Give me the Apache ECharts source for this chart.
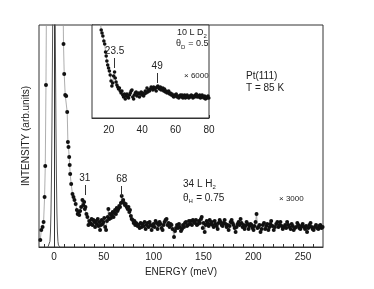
<!DOCTYPE html>
<html>
<head>
<meta charset="utf-8">
<script src="https://cdn.jsdelivr.net/npm/echarts@6/dist/echarts.min.js"></script>
<style>html,body{margin:0;padding:0;background:#fff}#c{width:374px;height:289px}</style>
</head>
<body>
<div id="c"></div>
<script>
// Elastic peak (unscaled), thin line
var energyElastic = [-6,-5,-4.5,-4,-3.5,-3,-2.5,-2,-1.5,-1,-0.5,0,0.5,1,1.5,2,2.5,3,3.5,4,4.5,5,6];
var intensityElastic = [0,0.6,1.9,5.7,15,34,69,122,191,263,319,340,319,263,191,122,69,34,15,5.7,1.9,0.6,0];

// Loss spectrum x3000 (main panel)
var energyMain = [-13.7,-12.7,-11.4,-10.4,-9.4,-8.7,-8.0,-7.2,-6,7,8.2,9.6,10.3,11.3,12.3,13.3,14.0,14.6,15.3,15.8,16.3,17.3,18.6,19.6,20.6,21.8,23.0,23.8,24.6,25.4,26.3,27.3,28.6,29.5,30.3,31.0,31.6,32.6,33.6,34.6,35.5,36.3,37.0,37.8,38.7,39.6,40.5,41.3,42.2,43.0,44.0,44.8,45.6,46.3,47.2,48.0,48.8,49.6,50.5,51.4,52.3,53.2,54.0,54.6,55.5,56.3,57.2,58.0,59.0,59.8,60.5,61.3,62.2,63.0,63.8,64.6,65.5,66.3,67.2,68.0,68.8,69.5,70.3,71.2,72.0,73.0,74.0,74.8,75.6,76.3,77.2,78.0,79.0,80.0,80.8,81.6,82.4,83.2,84.0,85.0,86.0,87.0,88.0,89.0,90.0,91.0,92.0,93.0,94.0,95.0,96.0,97.0,98.0,99.0,100.0,101.0,102.0,103.0,104.0,105.0,106.0,107.0,108.0,109.0,110.0,111.0,112.0,113.0,114.0,115.0,116.0,117.0,118.0,119.0,120.5,121.5,122.5,123.5,124.5,125.5,126.5,127.5,128.5,129.5,130.5,131.5,132.5,133.5,134.5,135.5,136.5,137.5,138.5,139.5,140.5,141.5,142.5,143.5,144.5,145.5,146.5,147.5,148.3,149.3,150.3,151.3,152.3,153.3,154.3,155.3,156.3,157.3,158.3,159.3,160.3,161.3,162.3,163.3,164.3,165.3,166.3,167.3,168.3,169.3,170.3,171.3,172.3,173.3,174.3,175.3,176.3,177.3,178.3,179.3,180.3,181.3,182.3,183.3,184.3,185.3,186.3,187.3,188.3,189.3,190.3,191.3,192.3,193.3,194.3,195.3,196.3,197.3,198.3,199.3,200.3,201.3,202.3,203.3,204.3,205.3,206.3,207.3,208.5,209.6,210.8,212,213,214,215.2,216.3,217.2,218,219.3,220.6,221.8,223,224.2,225.3,226.3,227.3,228.5,229.6,230.8,232,233,234,235.2,236.3,237.5,238.6,239.6,240.6,241.8,243,244.2,245.3,246.3,247.3,248.5,249.6,250.8,252,253,254,255.2,256.3,257.5,258.6,259.6,260.6,261.8,263,264.2,265.3,266.3,267.3,268.5,269.6];
var intensityMain = [7,17,20,25,50,81,162,300,600,600,330,203,173,152,151,135,105,100,90,82,73,63,53,50,47,43,37,33,35,32,36,40,47,42,45,38,40,33,30,22,26,24,23,28,22,27,25,20,26,23,28,21,25,17,22,27,23,25,29,20,17,26,30,38,28,33,29,32,35,30,34,37,33,39,36,38,41,40,44,51,45,47,44,42,43,40,38,40,35,37,31,28,27,24,26,22,24,23,21,22,19,24,20,23,21,25,18,22,24,20,25,22,17,21,23,20,26,24,18,22,25,23,19,17,22,25,27,28,22,24,20,23,22,18,10,16,19,22,19,23,20,16,18,22,20,24,25,21,22,26,23,26,22,27,25,24,27,22,23,26,24,28,30,19,24,15,22,26,24,21,27,23,25,22,20,26,23,21,18,24,27,25,22,21,24,27,23,20,22,17,21,25,27,24,22,19,15,20,23,25,22,28,24,20,22,18,21,25,23,18,21,23,22,19,17,21,25,33,19,20,22,15,18,22,24,18,21,23,17,20,23,26,21,17,20,23,25,20,22,25,21,18,20,22,19,25,22,20,18,23,21,17,19,20,24,22,19,18,21,23,20,18,21,15,19,22,24,20,18,17,20,22,19,18,21,22,19,20];

// Inset spectrum (10 L D2, x6000)
var energyInset = [14.8,15.5,16.0,16.5,17.1,17.6,18.1,18.5,18.9,19.4,19.9,20.4,20.9,21.4,21.9,22.4,22.9,23.5,23.9,24.4,24.9,25.4,25.9,26.4,26.9,27.4,27.9,28.4,28.9,29.4,29.9,30.4,30.9,31.4,31.9,32.4,32.9,33.4,33.9,34.4,34.9,35.4,35.9,36.4,36.9,37.4,37.9,38.4,38.9,39.4,39.9,40.4,40.9,41.4,41.9,42.4,42.9,43.4,43.9,44.4,44.9,45.4,45.9,46.4,46.9,47.4,47.9,48.4,48.9,49.4,49.9,50.4,50.9,51.4,51.9,52.4,52.9,53.4,53.9,54.4,54.9,55.4,55.9,56.4,56.9,57.4,57.9,58.4,58.9,59.4,59.9,60.4,60.9,61.4,61.9,62.4,62.9,63.4,63.9,64.4,64.9,65.4,65.9,66.4,66.9,67.4,67.9,68.4,68.9,69.4,69.9,70.4,70.9,71.4,71.9,72.4,72.9,73.4,73.9,74.4,74.9,75.4,75.9,76.4,76.9,77.4,77.9,78.4,78.9,79.4,79.9];
var intensityInset = [100,88,85,82,77,74,66,62,57,53,50,47,43,37,32,35,42,46,40,36,33,31,29,30,27,25,27,23,21,24,19,22,24,21,20,23,25,27,28,21,19,23,25,26,22,24,25,21,24,26,23,25,22,24,27,25,30,26,28,27,29,31,30,28,31,29,30,27,31,32,30,29,31,28,29,30,27,29,26,27,25,26,27,24,25,23,24,22,21,23,22,24,21,22,20,22,23,21,23,20,21,23,20,22,23,21,20,22,21,23,22,20,22,21,23,24,21,22,21,23,20,22,23,21,20,22,19,21,20,22,20];

// Axis tick values
var mainTickLabels = [0,50,100,150,200,250];
var mainMinorTicks = [-10,0,10,20,30,40,50,60,70,80,90,100,110,120,130,140,150,160,170,180,190,200,210,220,230,240,250,260];
var insetTickLabels = [20,40,60,80];

function zip(a,b){var r=[];for(var i=0;i<a.length;i++)r.push([a[i],b[i]]);return r;}

var FONT = 'Liberation Sans, Arial, sans-serif';
var ctx = document.createElement('canvas').getContext('2d');
function tw(text, size){ctx.font = size+'px '+FONT; return ctx.measureText(text).width;}
function txt(x, y, text, size){
  return {type:'text', x:x, y:y, z:10, style:{text:text, font:size+'px '+FONT, fill:'#222', verticalAlign:'middle', textVerticalAlign:'middle'}};
}
// Text with subscript pieces: parts = [[text, isSub], ...]
function subText(x, y, parts, size){
  var out = [], cx = x;
  parts.forEach(function(p){
    var s = p[1] ? Math.round(size*0.62) : size;
    out.push(txt(cx, p[1] ? y + size*0.38 : y, p[0], s));
    cx += tw(p[0], s) + (p[1] ? 0.5 : 0);
  });
  return out;
}

var graphics = [].concat(
  [txt(246, 76, 'Pt(111)', 10), txt(246, 88, 'T = 85 K', 10)],
  subText(177, 33, [['10 L D',0],['2',1]], 9),
  subText(176, 44, [['\u03b8',0],['D',1],[' = 0.5',0]], 9),
  [txt(184, 76, '\u00d7 6000', 8)],
  subText(183, 184, [['34 L H',0],['2',1]], 10),
  subText(183, 198, [['\u03b8',0],['H',1],[' = 0.75',0]], 10),
  [txt(279, 199, '\u00d7 3000', 8)]
);

var chart = echarts.init(document.getElementById('c'));
var markLbl = {show:true, position:'end', formatter:'{b}', color:'#222', fontSize:10, fontFamily:FONT, distance:2};
chart.setOption({
  animation:false,
  backgroundColor:'#fff',
  grid:[
    {left:39, top:25, right:51, bottom:42, show:true, borderColor:'#333', borderWidth:1, backgroundColor:'transparent'},
    {left:92, top:25, width:117, height:93, show:true, borderColor:'#333', borderWidth:1, backgroundColor:'#fff', z:5}
  ],
  xAxis:[
    {gridIndex:0, type:'value', min:-15, max:270, name:'ENERGY (meV)', nameLocation:'middle', nameGap:18,
     nameTextStyle:{color:'#222', fontSize:10, fontFamily:FONT},
     axisLine:{show:true, lineStyle:{color:'#333'}},
     axisTick:{show:true, inside:true, length:3, customValues:mainMinorTicks, lineStyle:{color:'#333'}},
     axisLabel:{show:true, customValues:mainTickLabels, color:'#222', fontSize:10, fontFamily:FONT, margin:5},
     splitLine:{show:false}},
    {gridIndex:1, type:'value', min:10, max:80, interval:10,
     axisLine:{show:true, lineStyle:{color:'#333'}},
     axisTick:{show:true, inside:true, length:3, lineStyle:{color:'#333'}},
     axisLabel:{show:true, color:'#222', fontSize:10, fontFamily:FONT, margin:7,
       formatter:function(v){return insetTickLabels.indexOf(v)>=0 ? String(v) : '';}},
     splitLine:{show:false}}
  ],
  yAxis:[
    {gridIndex:0, type:'value', min:0, max:222, name:'INTENSITY (arb.units)', nameLocation:'middle', nameGap:8,
     nameTextStyle:{color:'#222', fontSize:10, fontFamily:FONT},
     axisLine:{show:true, lineStyle:{color:'#333'}}, axisTick:{show:false}, axisLabel:{show:false}, splitLine:{show:false}},
    {gridIndex:1, type:'value', min:0, max:93,
     axisLine:{show:true, lineStyle:{color:'#333'}}, axisTick:{show:false}, axisLabel:{show:false}, splitLine:{show:false}}
  ],
  series:[
    {type:'line', xAxisIndex:0, yAxisIndex:0, data:zip(energyElastic,intensityElastic), showSymbol:false, symbol:'none',
     lineStyle:{color:'#555', width:1}, clip:true, z:2},
    {type:'line', xAxisIndex:0, yAxisIndex:0, data:zip(energyMain,intensityMain), symbol:'circle', symbolSize:4,
     itemStyle:{color:'#111'}, lineStyle:{color:'#999', width:0.8}, clip:true, z:3,
     markLine:{symbol:'none', silent:true, animation:false, lineStyle:{color:'#333', width:1, type:'solid'}, label:markLbl,
       data:[[{name:'31', coord:[31,52]},{coord:[31,62]}],[{name:'68', coord:[68,51]},{coord:[68,61]}]]}},
    {type:'line', xAxisIndex:1, yAxisIndex:1, data:zip(energyInset,intensityInset), symbol:'circle', symbolSize:3.6,
     itemStyle:{color:'#111'}, lineStyle:{color:'#999', width:0.8}, clip:true, z:6,
     markLine:{symbol:'none', silent:true, animation:false, lineStyle:{color:'#333', width:1, type:'solid'}, label:markLbl,
       data:[[{name:'23.5', coord:[23.5,50]},{coord:[23.5,60]}],[{name:'49', coord:[49,35]},{coord:[49,45]}]]}}
  ],
  graphic:graphics
});
</script>
</body>
</html>
